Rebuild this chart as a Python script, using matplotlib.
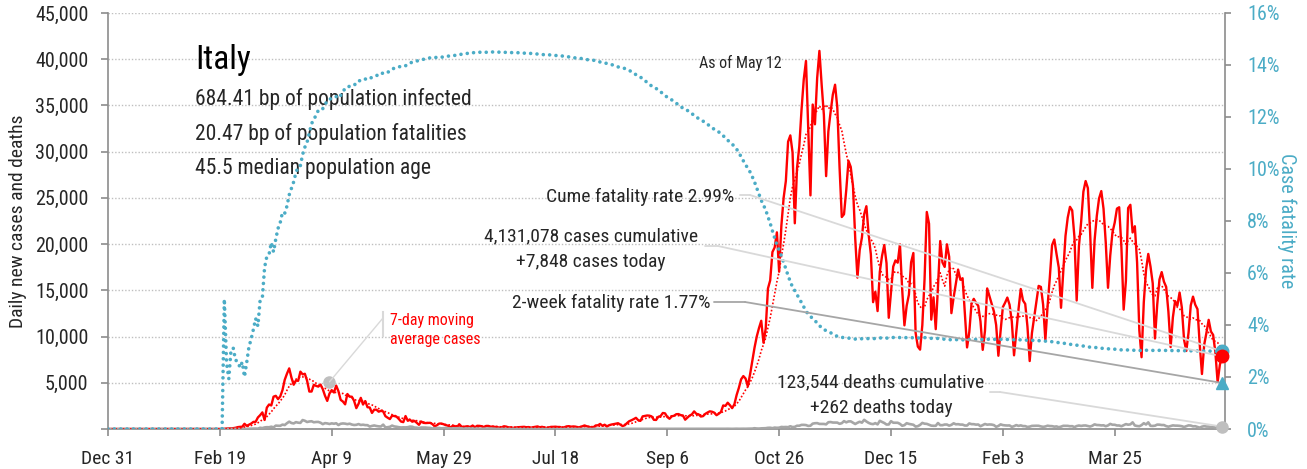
import numpy as np
import pandas as pd
import matplotlib
matplotlib.use('Agg')
import matplotlib.pyplot as plt
import matplotlib.dates as mdates

plt.rcParams['font.family'] = ['Roboto Condensed', 'Liberation Sans', 'DejaVu Sans']

# daily new cases, Italy (from first reported day Feb 21 2020)
cases_2020_02 = [20, 59, 76, 74, 93, 131, 202, 233, 240]
cases_2020_03 = [566, 342, 466, 587, 769, 778, 1247, 1492, 1797, 977, 2313, 2651, 2547, 3497, 3590, 3233,
                 3526, 4207, 5322, 5986, 6557, 5560, 4789, 5249, 5210, 6203, 5909, 5974, 5217, 4050, 4053]
cases_2020_04 = [4782, 4668, 4585, 4805, 4316, 3599, 3039, 3836, 4204, 3951, 4694, 4092, 3153, 2972, 2667,
                 3786, 3493, 3491, 3047, 2256, 2729, 3370, 2646, 3021, 2357, 2324, 1739, 2091, 2086, 1872]
cases_2020_05 = [1965, 1900, 1389, 1221, 1075, 1444, 1401, 1327, 1083, 802, 744, 1402, 888, 992, 789, 875,
                 675, 451, 813, 665, 642, 652, 669, 531, 300, 397, 584, 593, 516, 416, 355]
cases_2020_06 = [178, 318, 321, 177, 518, 270, 197, 280, 283, 202, 379, 163, 346, 338, 301, 210, 329, 333,
                 251, 262, 224, 218, 122, 190, 296, 259, 175, 174, 126, 142]
cases_2020_07 = [187, 201, 223, 235, 192, 208, 138, 193, 229, 276, 188, 234, 169, 114, 162, 230, 233, 249,
                 219, 218, 129, 190, 282, 306, 252, 275, 255, 170, 212, 289, 386]
cases_2020_08 = [295, 239, 159, 190, 384, 402, 552, 347, 463, 259, 412, 481, 523, 574, 629, 479, 320, 403,
                 642, 845, 947, 1071, 1210, 953, 878, 1367, 1411, 1462, 1444, 1365, 996]
cases_2020_09 = [978, 1326, 1397, 1733, 1695, 1297, 1108, 1370, 1434, 1597, 1616, 1501, 1458, 1008, 1229,
                 1452, 1585, 1907, 1638, 1587, 1350, 1392, 1640, 1786, 1912, 1869, 1766, 1494, 1648, 1851]
cases_2020_10 = [2548, 2499, 2844, 2578, 2257, 2677, 3678, 4458, 5372, 5724, 5456, 4619, 5901, 7332, 8804,
                 10010, 10925, 11705, 9338, 10874, 15199, 16079, 19143, 19644, 21273, 17012, 21994, 24991,
                 26831, 31084, 31758]
cases_2020_11 = [29907, 22253, 28244, 30550, 34505, 37809, 39811, 32616, 25271, 35098, 32961, 37978, 40902,
                 37255, 33979, 27354, 32191, 34282, 36176, 37242, 34767, 28337, 22930, 23232, 25853, 29003,
                 28352, 26323, 20648, 16377]
cases_2020_12 = [19350, 20709, 23225, 24099, 21052, 18887, 13720, 14842, 12756, 16999, 18727, 19903, 17938,
                 12030, 14844, 17572, 18236, 17992, 19974, 15104, 11212, 13318, 14522, 18040, 19037, 10407,
                 8913, 8585, 11224, 16202, 23477]
cases_2021_01 = [22211, 11831, 14245, 10800, 15378, 20331, 18020, 17533, 19978, 18627, 12532, 14242, 15774,
                 17246, 16146, 16310, 12545, 8824, 10497, 13571, 14078, 13633, 13331, 11629, 8561, 10593,
                 15204, 14372, 13574, 12715, 11252]
cases_2021_02 = [7925, 10630, 13189, 13659, 14218, 13442, 11641, 7970, 10404, 12956, 15146, 13908, 13532,
                 11068, 7351, 10386, 12074, 13762, 15479, 15370, 13452, 9630, 13314, 16424, 19886, 20499,
                 18916, 17455]
cases_2021_03 = [13114, 17083, 20884, 22865, 24036, 23641, 20765, 13902, 19749, 22409, 25673, 26824, 26062,
                 21315, 15267, 20396, 23059, 24935, 25735, 23832, 20159, 15275, 18765, 21267, 22328, 23839,
                 23987, 19611, 12916, 16017, 23904]
cases_2021_04 = [24252, 21261, 21932, 18025, 10680, 7767, 13708, 17221, 18938, 17567, 15746, 9789, 13447,
                 16168, 16974, 15943, 15370, 12694, 8864, 12074, 13844, 13329, 14761, 13158, 9654, 8444,
                 10404, 13385, 14320, 13446]
cases_2021_05 = [12965, 9148, 5948, 9116, 10404, 11807, 10554, 10176, 8292, 5080, 6946, 7848]

# daily new deaths
deaths_2020_02 = [1, 1, 1, 4, 3, 2, 5, 4, 8]
deaths_2020_03 = [5, 18, 27, 28, 41, 49, 36, 133, 97, 168, 196, 189, 250, 175, 368, 349, 345, 475, 427, 627,
                  793, 651, 601, 743, 683, 662, 969, 889, 756, 812, 837]
deaths_2020_04 = [727, 760, 766, 681, 525, 636, 604, 542, 610, 570, 619, 431, 566, 602, 578, 525, 575, 482,
                  433, 454, 534, 437, 464, 420, 415, 260, 333, 382, 323, 285]
deaths_2020_05 = [269, 474, 174, 195, 236, 369, 274, 243, 194, 165, 179, 172, 195, 262, 242, 153, 145, 99,
                  162, 161, 156, 130, 119, 50, 92, 78, 117, 70, 87, 111, 75]
deaths_2020_06 = [60, 55, 71, 88, 85, 72, 53, 65, 79, 71, 53, 56, 78, 44, 26, 34, 43, 66, 47, 49, 24, 23,
                  18, 30, 30, 30, 8, 22, 6, 23]
deaths_2020_07 = [21, 30, 15, 21, 7, 8, 30, 15, 12, 12, 7, 7, 13, 13, 17, 20, 11, 9, 3, 15, 15, 9, 10, 5,
                  5, 3, 5, 11, 11, 6, 3]
deaths_2020_08 = [5, 3, 12, 6, 10, 6, 3, 13, 4, 2, 6, 10, 6, 3, 3, 4, 4, 7, 5, 7, 9, 3, 7, 4, 4, 13, 5, 9,
                  5, 1, 4]
deaths_2020_09 = [6, 6, 10, 6, 16, 7, 14, 10, 10, 10, 10, 7, 7, 14, 9, 10, 10, 10, 24, 15, 13, 14, 20, 20,
                  20, 17, 17, 16, 24, 19]
deaths_2020_10 = [24, 23, 27, 18, 16, 28, 31, 22, 28, 29, 26, 39, 41, 43, 83, 55, 47, 69, 73, 89, 127, 136,
                  91, 151, 128, 141, 221, 205, 217, 199, 297]
deaths_2020_11 = [208, 233, 353, 352, 445, 446, 425, 331, 356, 580, 623, 636, 550, 544, 546, 504, 731, 753,
                  699, 699, 692, 562, 630, 853, 722, 822, 827, 686, 541, 672]
deaths_2020_12 = [785, 684, 993, 814, 662, 564, 528, 634, 499, 887, 761, 649, 484, 491, 846, 680, 683, 674,
                  553, 352, 415, 628, 553, 505, 459, 261, 305, 445, 659, 575, 555]
deaths_2021_01 = [462, 364, 347, 348, 649, 414, 414, 483, 483, 361, 448, 616, 507, 522, 477, 475, 377, 377,
                  603, 524, 521, 472, 488, 299, 420, 541, 467, 492, 477, 421, 237]
deaths_2021_02 = [329, 499, 421, 391, 377, 385, 232, 307, 422, 336, 391, 316, 311, 221, 258, 336, 347, 353,
                  347, 280, 232, 274, 356, 318, 308, 253, 280, 192]
deaths_2021_03 = [255, 343, 347, 339, 297, 307, 207, 318, 376, 332, 373, 380, 317, 264, 354, 502, 431, 423,
                  386, 401, 300, 386, 551, 460, 457, 380, 380, 297, 417, 529, 467]
deaths_2021_04 = [501, 718, 376, 326, 296, 421, 627, 487, 718, 344, 331, 358, 476, 469, 429, 429, 310, 251,
                  316, 390, 364, 360, 342, 301, 217, 301, 390, 373, 288, 301]
deaths_2021_05 = [226, 144, 256, 305, 263, 258, 207, 224, 139, 198, 251, 262]

month_starts = ['2020-02-21', '2020-03-01', '2020-04-01', '2020-05-01', '2020-06-01', '2020-07-01',
                '2020-08-01', '2020-09-01', '2020-10-01', '2020-11-01', '2020-12-01', '2021-01-01',
                '2021-02-01', '2021-03-01', '2021-04-01', '2021-05-01']
case_months = [cases_2020_02, cases_2020_03, cases_2020_04, cases_2020_05, cases_2020_06, cases_2020_07,
               cases_2020_08, cases_2020_09, cases_2020_10, cases_2020_11, cases_2020_12, cases_2021_01,
               cases_2021_02, cases_2021_03, cases_2021_04, cases_2021_05]
death_months = [deaths_2020_02, deaths_2020_03, deaths_2020_04, deaths_2020_05, deaths_2020_06,
                deaths_2020_07, deaths_2020_08, deaths_2020_09, deaths_2020_10, deaths_2020_11,
                deaths_2020_12, deaths_2021_01, deaths_2021_02, deaths_2021_03, deaths_2021_04,
                deaths_2021_05]

chart_start = pd.Timestamp('2019-12-31')
chart_end = pd.Timestamp('2021-05-12')

country = 'Italy'
info_lines = ['684.41 bp of population infected', '20.47 bp of population fatalities',
              '45.5 median population age']
as_of = 'As of May 12'
cume_cfr_label = 'Cume fatality rate 2.99%'
cases_labels = ['4,131,078 cases cumulative', '+7,848 cases today']
two_week_label = '2-week fatality rate 1.77%'
two_week_cfr = 0.0177
deaths_labels = ['123,544 deaths cumulative', '+262 deaths today']
ma_labels = ['7-day moving', 'average cases']
ma_anchor_date = pd.Timestamp('2020-04-08')
ma_anchor_value = 5100


def to_series(starts, months):
    parts = []
    for s, vals in zip(starts, months):
        parts.append(pd.Series(vals, index=pd.date_range(s, periods=len(vals)), dtype=float))
    full = pd.date_range(chart_start, chart_end)
    return pd.concat(parts).reindex(full, fill_value=0.0)


cases = to_series(month_starts, case_months)
deaths = to_series(month_starts, death_months)
cases_ma = cases.rolling(7, min_periods=1).mean()
cum_cases = cases.cumsum()
cfr = (deaths.cumsum() / cum_cases.where(cum_cases > 0)).fillna(0)

RED = '#ff0000'
TEAL = '#4bacc6'
GREY = '#a6a6a6'
LIGHT = '#d9d9d9'
TXT = '#262626'

fig = plt.figure(figsize=(13.07, 4.69), dpi=100)
ax = fig.add_axes([108 / 1307, 1 - 429 / 469, 1117 / 1307, 416 / 469])
ax2 = ax.twinx()

ax.plot(cases.index, cases.values, color=RED, lw=1.7, zorder=3)
ax.plot(cases_ma.index, cases_ma.values, color=RED, lw=1.2, ls=(0, (1, 1.2)), zorder=4)
ax.plot(deaths.index, deaths.values, color=GREY, lw=1.9, zorder=3)
ax2.plot(cfr.index, cfr.values, color=TEAL, lw=2.6, ls=(0, (0.01, 1.75)), dash_capstyle='round')

ax.set_xlim(chart_start, chart_start + pd.Timedelta(days=499.3))
ax.set_ylim(0, 45000)
ax2.set_ylim(0, 0.16)

xt = pd.date_range(chart_start, periods=10, freq='50D')
ax.set_xticks(xt)
ax.set_xticklabels([f'{d:%b} {d.day}' for d in xt])
yt = np.arange(0, 45001, 5000)
ax.set_yticks(yt)
ax.set_yticklabels(['' if v == 0 else f'{v:,}' for v in yt])
rt = np.arange(0, 0.161, 0.02)
ax2.set_yticks(rt)
ax2.set_yticklabels([f'{v * 100:.0f}%' for v in rt])

ax.yaxis.grid(True, color='#bfbfbf', lw=1.0, ls=(0, (1, 1.4)))
ax.set_axisbelow(True)
for a in (ax, ax2):
    for s in a.spines.values():
        s.set_visible(False)
ax.spines['left'].set_visible(True)
ax.spines['bottom'].set_visible(True)
ax2.spines['right'].set_visible(True)
for s in (ax.spines['left'], ax.spines['bottom'], ax2.spines['right']):
    s.set_color('#8c8c8c')
    s.set_linewidth(1.2)

ax.tick_params(axis='y', length=5, width=1.2, color='#8c8c8c', pad=9, labelsize=14.5, labelcolor=TXT)
ax.tick_params(axis='x', length=5, width=1.2, color='#8c8c8c', pad=10, labelsize=14, labelcolor=TXT)
ax2.tick_params(axis='y', length=4, width=1.2, color='#8c8c8c', pad=12, labelsize=14.5, labelcolor=TEAL)
ax.set_ylabel('Daily new cases and deaths', fontsize=14, color=TXT, labelpad=6)
ax2.set_ylabel('Case fatality rate', fontsize=14.5, color=TEAL, rotation=270, labelpad=12)

# title block
ax.text(0.078, 0.887, country, transform=ax.transAxes, fontsize=24, color='black', va='center')
for i, line in enumerate(info_lines):
    ax.text(0.078, 0.793 - i * 0.083, line, transform=ax.transAxes, fontsize=15.5, color=TXT, va='center')
ax.text(0.566, 0.880, as_of, transform=ax.transAxes, fontsize=11.5, color=TXT, ha='center', va='center')

# right-edge markers
end = mdates.date2num(cases.index[-1])
ax2.plot([end], [cfr.iloc[-1]], 'o', color=TEAL, ms=9, zorder=6, clip_on=False)
ax2.plot([end], [cases.iloc[-1]], 'o', color=RED, ms=9, zorder=7, transform=ax.transData, clip_on=False)
ax2.plot([end], [two_week_cfr], '^', color=TEAL, ms=9, zorder=6, clip_on=False)
ax2.plot([end], [deaths.iloc[-1]], 'o', color='#bfbfbf', ms=8, zorder=6, transform=ax.transData,
         clip_on=False)


def callout(p0, p1, target, coords, color):
    ax2.annotate('', xy=p1, xycoords='axes fraction', xytext=p0, textcoords='axes fraction',
                 arrowprops=dict(arrowstyle='-', color=color, lw=1.3, shrinkA=0, shrinkB=0))
    ax2.annotate('', xy=target, xycoords=coords, xytext=p1, textcoords='axes fraction',
                 arrowprops=dict(arrowstyle='-', color=color, lw=1.3, shrinkA=0, shrinkB=0), zorder=5)


callout((0.5658, 0.5625), (0.5748, 0.5625), (end, cfr.iloc[-1]), ax2.transData, LIGHT)
callout((0.5345, 0.4399), (0.5461, 0.4399), (end, cases.iloc[-1]), ax.transData, LIGHT)
callout((0.5425, 0.3053), (0.5703, 0.3053), (end, two_week_cfr), ax2.transData, GREY)
callout((0.7896, 0.0889), (0.7986, 0.0889), (end, deaths.iloc[-1]), ax.transData, LIGHT)

ax2.text(0.5604, 0.5577, cume_cfr_label, transform=ax.transAxes, fontsize=14, color=TXT,
         ha='right', va='center')
ax2.text(0.4324, 0.4639, cases_labels[0], transform=ax.transAxes, fontsize=14, color=TXT,
         ha='center', va='center')
ax2.text(0.4324, 0.4014, cases_labels[1], transform=ax.transAxes, fontsize=14, color=TXT,
         ha='center', va='center')
ax2.text(0.5398, 0.3029, two_week_label, transform=ax.transAxes, fontsize=14, color=TXT,
         ha='right', va='center')
ax2.text(0.692, 0.113, deaths_labels[0], transform=ax.transAxes, fontsize=14, color=TXT,
         ha='center', va='center')
ax2.text(0.692, 0.0505, deaths_labels[1], transform=ax.transAxes, fontsize=14, color=TXT,
         ha='center', va='center')

# moving-average callout
ma_x = mdates.date2num(ma_anchor_date)
ax2.plot([0.2462, 0.2462], [0.2812, 0.224], transform=ax.transAxes, color=LIGHT, lw=1.5)
ax2.annotate('', xy=(ma_x, ma_anchor_value), xycoords=ax.transData, xytext=(0.2462, 0.2668),
             textcoords='axes fraction',
             arrowprops=dict(arrowstyle='-', color=LIGHT, lw=1.0, shrinkA=0, shrinkB=0))
ax2.plot([ma_x], [ma_anchor_value], 'o', color='#bfbfbf', ms=8, transform=ax.transData)
ax2.text(0.2525, 0.262, ma_labels[0], transform=ax.transAxes, fontsize=11.5, color=RED, va='center')
ax2.text(0.2525, 0.214, ma_labels[1], transform=ax.transAxes, fontsize=11.5, color=RED, va='center')

fig.savefig('out.png', dpi=100)
